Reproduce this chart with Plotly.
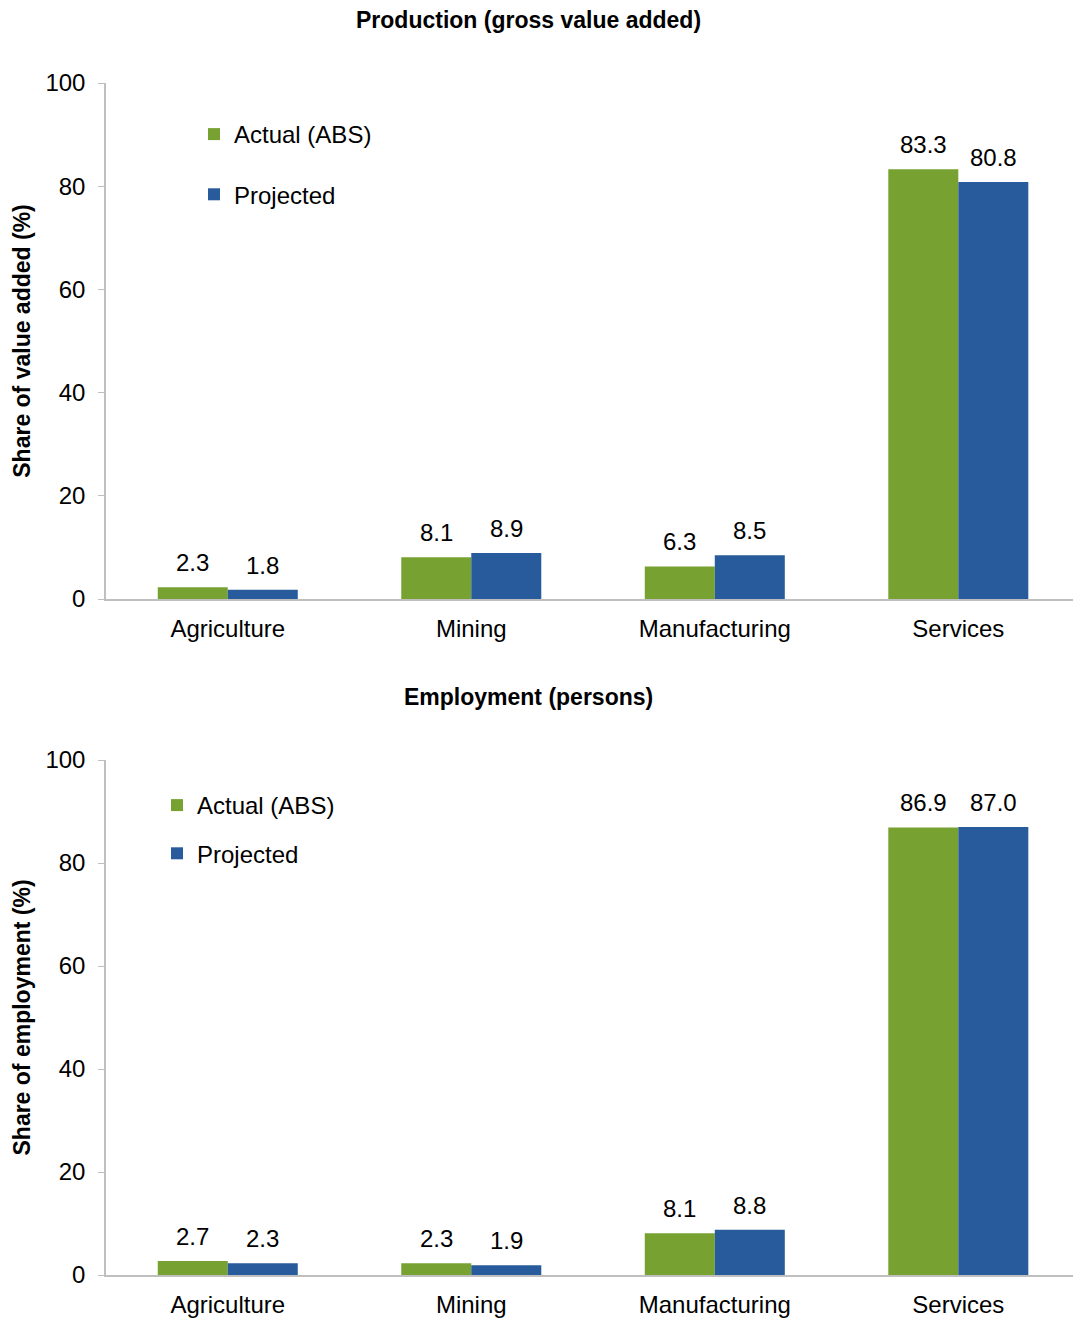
import plotly.graph_objects as go
from plotly.subplots import make_subplots

# Sector shares, actual ABS figures versus model projections
sectors = ["Agriculture", "Mining", "Manufacturing", "Services"]
gva_actual = [2.3, 8.1, 6.3, 83.3]
gva_projected = [1.8, 8.9, 8.5, 80.8]
emp_actual = [2.7, 2.3, 8.1, 86.9]
emp_projected = [2.3, 1.9, 8.8, 87.0]

series_names = ["Actual (ABS)", "Projected"]
y_ticks = [0, 20, 40, 60, 80, 100]
panel_titles = ["Production (gross value added)", "Employment (persons)"]
y_titles = ["Share of value added (%)", "Share of employment (%)"]

GREEN = "#77A232"
BLUE = "#285B9B"
AXIS_GREY = "#BFBFBF"
FONT = "Liberation Sans, Arial, sans-serif"
TEXT_SIZE = 24
TITLE_SIZE = 23

W, H = 1073, 1319
M_L, M_R, M_T, M_B = 106, 0, 83, 44
plot_h = H - M_T - M_B

def py(p):
    """Convert a pixel row (from the top) to paper y."""
    return (H - M_B - p) / plot_h

def px(p):
    """Convert a pixel column to paper x."""
    return (p - M_L) / (W - M_L - M_R)

fig = make_subplots(rows=2, cols=1, vertical_spacing=0.1)
fig.update_layout(
    yaxis=dict(domain=[py(599), 1.0]),
    yaxis2=dict(domain=[0.0, py(760)]),
)

panels = [(gva_actual, gva_projected, "legend"), (emp_actual, emp_projected, "legend2")]
for row, (actual, projected, leg) in enumerate(panels, start=1):
    for k, (name, vals, color) in enumerate(zip(series_names, [actual, projected], [GREEN, BLUE])):
        fig.add_trace(
            go.Bar(
                x=sectors,
                y=vals,
                name=name,
                marker=dict(color=color, line=dict(width=0)),
                legend=leg,
                legendgroup=f"{leg}-{name}",
                hoverinfo="skip",
            ),
            row=row,
            col=1,
        )
        # value labels sitting above each bar of the group
        xref = "x" if row == 1 else "x2"
        yref = "y" if row == 1 else "y2"
        for s, v in zip(sectors, vals):
            fig.add_annotation(
                x=s,
                y=v,
                xref=xref,
                yref=yref,
                text=f"{v:.1f}",
                showarrow=False,
                xanchor="center",
                yanchor="bottom",
                xshift=-35 if k == 0 else 35,
                yshift=9,
                font=dict(family=FONT, size=TEXT_SIZE, color="black"),
            )

axis_common = dict(
    showgrid=False,
    zeroline=False,
    showline=True,
    linecolor=AXIS_GREY,
    linewidth=1.5,
    tickfont=dict(family=FONT, size=TEXT_SIZE, color="black"),
)

for row in (1, 2):
    fig.update_xaxes(
        type="category",
        range=[-0.5, 3.471],
        ticks="",
        ticklabelstandoff=7,
        **axis_common,
        row=row,
        col=1,
    )
    fig.update_yaxes(
        range=[0, 100],
        tickvals=y_ticks,
        ticks="outside",
        ticklen=6,
        tickcolor=AXIS_GREY,
        ticklabelstandoff=8,
        title=dict(
            text=y_titles[row - 1],
            font=dict(family=FONT, size=TITLE_SIZE, color="black", weight="bold"),
            standoff=8,
        ),
        **axis_common,
        row=row,
        col=1,
    )

for title, p in zip(panel_titles, [20, 697]):
    fig.add_annotation(
        text=f"<b>{title}</b>",
        xref="paper",
        yref="paper",
        x=px(528),
        y=py(p),
        xanchor="center",
        yanchor="middle",
        showarrow=False,
        font=dict(family=FONT, size=TITLE_SIZE, color="black"),
    )

legend_common = dict(
    font=dict(family=FONT, size=TEXT_SIZE, color="black"),
    bgcolor="rgba(0,0,0,0)",
    xanchor="left",
    yanchor="top",
    itemwidth=30,
)

fig.update_layout(
    width=W,
    height=H,
    margin=dict(l=M_L, r=M_R, t=M_T, b=M_B),
    paper_bgcolor="white",
    plot_bgcolor="white",
    barmode="group",
    bargap=0.425,
    bargroupgap=0,
    showlegend=True,
    legend=dict(x=px(194), y=py(112), tracegroupgap=26, **legend_common),
    legend2=dict(x=px(157), y=py(783), tracegroupgap=14, **legend_common),
)

fig.write_html("out.html")
